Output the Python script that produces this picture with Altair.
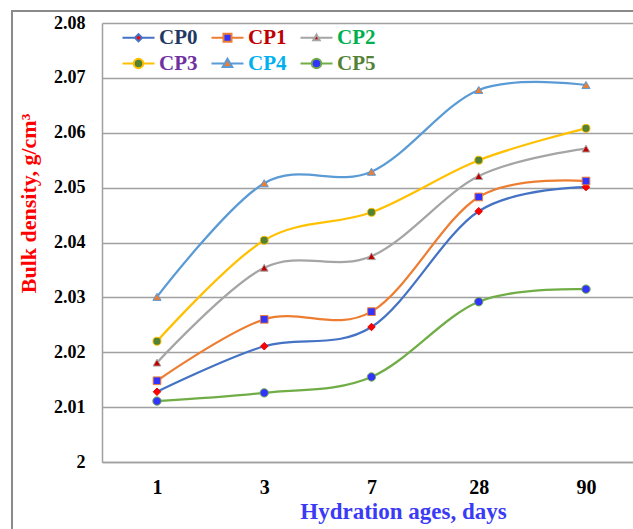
import altair as alt
import pandas as pd

# Hydration ages (category axis) and mixes
days = ["1", "3", "7", "28", "90"]
series = ["CP0", "CP1", "CP2", "CP3", "CP4", "CP5"]

# Bulk density, g/cm3, per mix at each age
cp0 = [2.0128, 2.0211, 2.0246, 2.0457, 2.0501]
cp1 = [2.0148, 2.0260, 2.0274, 2.0483, 2.0512]
cp2 = [2.0181, 2.0354, 2.0375, 2.0521, 2.0571]
cp3 = [2.0220, 2.0404, 2.0455, 2.0550, 2.0608]
cp4 = [2.0301, 2.0508, 2.0529, 2.0678, 2.0687]
cp5 = [2.0111, 2.0126, 2.0155, 2.0292, 2.0315]
all_values = [cp0, cp1, cp2, cp3, cp4, cp5]

y_ticks = [2.00, 2.01, 2.02, 2.03, 2.04, 2.05, 2.06, 2.07, 2.08]

rows = [
    {"day": d, "series": s, "density": v}
    for s, vals in zip(series, all_values)
    for d, v in zip(days, vals)
]
df = pd.DataFrame(rows)

# Styling per series
line_colors = ["#4472C4", "#ED7D31", "#A5A5A5", "#FFC000", "#5B9BD5", "#70AD47"]
marker_fills = ["#FF0000", "#3333FF", "#C00000", "#548235", "#ED7D31", "#3333FF"]
marker_strokes = ["#E00000", "#ED7D31", "#A5A5A5", "#FFC000", "#5B9BD5", "#70AD47"]
marker_shapes = ["diamond", "square", "triangle-up", "circle", "triangle-up", "circle"]
marker_sizes = [56, 70, 42, 115, 115, 135]
label_colors = ["#1F3864", "#C00000", "#00B050", "#7030A0", "#00B0F0", "#548235"]

# Legend glyphs: a short line segment with the marker in the middle
legend_paths = [
    "M-4,0L-0.9,0M0.9,0L4,0M0,-0.9L0.9,0L0,0.9L-0.9,0Z",
    "M-4,0L-1,0M1,0L4,0M-1,-1L1,-1L1,1L-1,1Z",
    "M-4,0L-0.46,0M0.46,0L4,0M0,-0.8L0.8,0.6L-0.8,0.6Z",
    "M-4,0L-1.2,0M1.2,0L4,0M1.2,0A1.2,1.2 0 1,1 -1.2,0A1.2,1.2 0 1,1 1.2,0Z",
    "M-4,0L-0.69,0M0.69,0L4,0M0,-1.2L1.2,0.9L-1.2,0.9Z",
    "M-4,0L-1.2,0M1.2,0L4,0M1.2,0A1.2,1.2 0 1,1 -1.2,0A1.2,1.2 0 1,1 1.2,0Z",
]

label_color_expr = ""
for s, c in zip(series[:-1], label_colors[:-1]):
    label_color_expr += f"datum.label === '{s}' ? '{c}' : "
label_color_expr += f"'{label_colors[-1]}'"

FONT = "Liberation Serif"
GRID = "#A0A0A0"

x_enc = alt.X(
    "day:O",
    sort=days,
    scale=alt.Scale(type="point", padding=0.4755, align=0.539),
    axis=alt.Axis(
        title="Hydration ages, days",
        titleColor="#3B3BF5",
        titleFont=FONT,
        titleFontWeight="bold",
        titleFontSize=23,
        titleX=301,
        titleY=56,
        titleAlign="center",
        titleBaseline="alphabetic",
        labelAngle=0,
        labelFont=FONT,
        labelFontSize=20,
        labelFontWeight="bold",
        labelColor="black",
        labelPadding=15,
        ticks=False,
        domainColor=GRID,
        domainWidth=1.5,
        grid=False,
    ),
)

y_enc = alt.Y(
    "density:Q",
    scale=alt.Scale(domain=[2.0, 2.08], nice=False, zero=False),
    axis=alt.Axis(
        title="Bulk density, g/cm³",
        titleColor="#FF0000",
        titleFont=FONT,
        titleFontWeight="bold",
        titleFontSize=22,
        titleAngle=270,
        titleX=-74,
        titleY=180,
        titleAlign="center",
        titleBaseline="middle",
        values=y_ticks,
        labelExpr="format(datum.value, '.2~f')",
        labelFont=FONT,
        labelFontSize=18,
        labelFontWeight="bold",
        labelColor="black",
        labelPadding=17,
        ticks=False,
        domainColor=GRID,
        domainWidth=1.5,
        grid=True,
        gridColor=GRID,
        gridWidth=1.3,
    ),
)

# Outer chart-area frame
frame = alt.Chart(alt.Data(values=[{"k": 1}])).mark_rect(
    fillOpacity=0, stroke="#8A8A8A", strokeWidth=2
).encode(
    x=alt.value(-90), x2=alt.value(700), y=alt.value(-12), y2=alt.value(600)
)

lines = alt.Chart(df).mark_line(interpolate="cardinal", strokeWidth=2.25).encode(
    x=x_enc,
    y=y_enc,
    stroke=alt.Stroke(
        "series:N", scale=alt.Scale(domain=series, range=line_colors), legend=None
    ),
)

points = alt.Chart(df).mark_point(filled=True, opacity=1, strokeWidth=1).encode(
    x=x_enc,
    y=y_enc,
    shape=alt.Shape(
        "series:N", scale=alt.Scale(domain=series, range=marker_shapes), legend=None
    ),
    fill=alt.Fill(
        "series:N", scale=alt.Scale(domain=series, range=marker_fills), legend=None
    ),
    stroke=alt.Stroke(
        "series:N", scale=alt.Scale(domain=series, range=marker_strokes), legend=None
    ),
    size=alt.Size(
        "series:N", scale=alt.Scale(domain=series, range=marker_sizes), legend=None
    ),
)

legend = alt.Legend(
    title=None,
    orient="none",
    legendX=26,
    legendY=4,
    columns=3,
    direction="horizontal",
    padding=0,
    labelFont=FONT,
    labelFontSize=21,
    labelFontWeight="bold",
    labelColor={"expr": label_color_expr},
    labelOffset=10,
    columnPadding=9,
    rowPadding=4,
    symbolSize=64,
    symbolStrokeWidth=2,
)

# Layer that only carries the legend
legend_layer = alt.Chart(df).transform_filter("false").mark_point(
    filled=True, opacity=1
).encode(
    x=x_enc,
    y=y_enc,
    shape=alt.Shape(
        "series:N", scale=alt.Scale(domain=series, range=legend_paths), legend=legend
    ),
    fill=alt.Fill(
        "series:N", scale=alt.Scale(domain=series, range=marker_fills), legend=legend
    ),
    stroke=alt.Stroke(
        "series:N", scale=alt.Scale(domain=series, range=line_colors), legend=legend
    ),
)

chart = (
    alt.layer(frame, lines, points, legend_layer)
    .resolve_scale(
        stroke="independent", fill="independent", shape="independent", size="independent"
    )
    .properties(
        width=531,
        height=439,
        autosize=alt.AutoSizeParams(type="none"),
        padding={"left": 102, "top": 23, "right": 0, "bottom": 67},
    )
    .configure_view(stroke=None)
    .configure_legend(labelFont=FONT, labelFontWeight="bold", labelFontSize=21)
)

chart.save("out.html", embed_options={"renderer": "svg", "actions": False})
